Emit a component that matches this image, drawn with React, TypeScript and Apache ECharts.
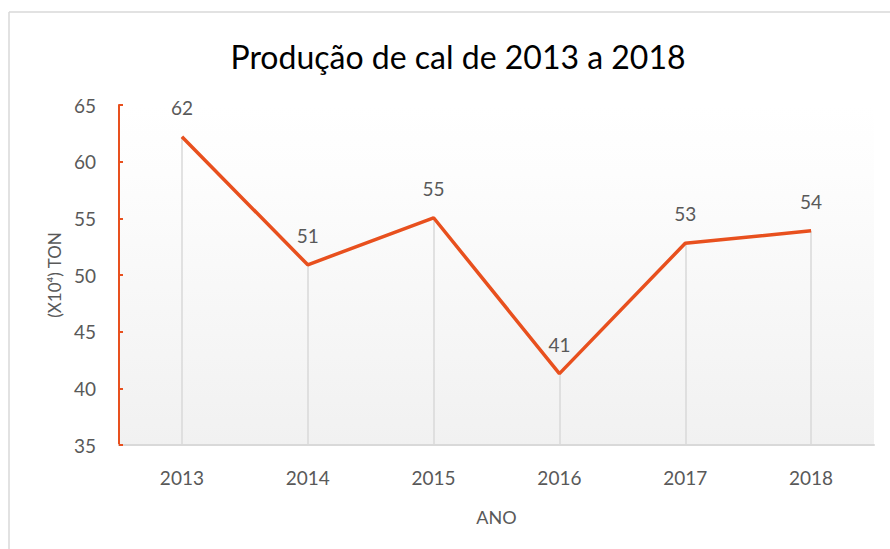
import React, { useEffect, useRef } from "react";
import * as echarts from "echarts";

const categories = ["2013", "2014", "2015", "2016", "2017", "2018"];
const values = [62.2, 50.9, 55.05, 41.3, 52.8, 53.9];
const labels = ["62", "51", "55", "41", "53", "54"];
const yMin = 35;
const yMax = 65;
const yInterval = 5;

const FONT = "Lato, 'Noto Sans', sans-serif";
const TEXT = "#595959";
const RED = "#E8501E";
const GRAY = "#d9d9d9";

export default function App() {
  const ref = useRef<HTMLDivElement>(null);
  useEffect(() => {
    const chart = echarts.init(ref.current!, null, { renderer: "svg" });
    chart.setOption({
      animation: false,
      backgroundColor: "#ffffff",
      textStyle: { fontFamily: FONT },
      title: {
        text: "Produção de cal de 2013 a 2018",
        left: 453,
        top: 35,
        textAlign: "center",
        textStyle: { fontFamily: FONT, fontSize: 32, fontWeight: "normal", color: "#000" },
      },
      graphic: [
        { type: "line", shape: { x1: 9, y1: 12, x2: 890, y2: 12 }, style: { stroke: GRAY, lineWidth: 1.5 } },
        { type: "line", shape: { x1: 9, y1: 12, x2: 9, y2: 549 }, style: { stroke: GRAY, lineWidth: 1.5 } },
      ],
      grid: {
        left: 119,
        right: 16,
        top: 105,
        bottom: 104,
        show: true,
        borderWidth: 0,
        backgroundColor: {
          type: "linear",
          x: 0,
          y: 0,
          x2: 0,
          y2: 1,
          colorStops: [
            { offset: 0, color: "#ffffff" },
            { offset: 0.2, color: "#fdfdfd" },
            { offset: 1, color: "#f1f1f1" },
          ],
        },
      },
      xAxis: {
        type: "category",
        data: categories,
        boundaryGap: true,
        name: "ANO",
        nameLocation: "middle",
        nameGap: 63,
        nameTextStyle: { fontFamily: FONT, fontSize: 18, color: TEXT },
        axisLine: { lineStyle: { color: GRAY, width: 2 } },
        axisTick: { show: false },
        axisLabel: { fontFamily: FONT, fontSize: 19, color: TEXT, margin: 23 },
        splitLine: { show: false },
      },
      yAxis: {
        type: "value",
        min: yMin,
        max: yMax,
        interval: yInterval,
        name: "(X10⁴) TON",
        nameLocation: "middle",
        nameGap: 52,
        nameTextStyle: { fontFamily: FONT, fontSize: 17, color: TEXT },
        axisLine: { show: true, lineStyle: { color: RED, width: 2 } },
        axisTick: { show: true, inside: true, length: 4, lineStyle: { color: RED, width: 2 } },
        axisLabel: { fontFamily: FONT, fontSize: 19, color: TEXT, margin: 23 },
        splitLine: { show: false },
      },
      series: [
        {
          type: "line",
          data: values,
          showSymbol: false,
          symbol: "none",
          lineStyle: { color: RED, width: 3.5 },
          markLine: {
            silent: true,
            symbol: "none",
            label: { show: false },
            lineStyle: { color: GRAY, width: 1.5, type: "solid" },
            z: 1,
            data: values.map((v, i) => [
              { coord: [i, yMin] },
              { coord: [i, v] },
            ]),
          },
          z: 3,
        },
        {
          type: "scatter",
          data: values,
          symbol: "circle",
          symbolSize: 2,
          itemStyle: { color: "rgba(0,0,0,0)", opacity: 1 },
          label: {
            show: true,
            position: "top",
            distance: 19,
            fontFamily: FONT,
            fontSize: 19,
            color: TEXT,
            opacity: 1,
            formatter: (p: any) => labels[p.dataIndex],
          },
          z: 4,
        },
      ],
    });
    return () => chart.dispose();
  }, []);
  return (
    <div
      ref={ref}
      style={{ position: "absolute", left: 0, top: 0, width: 890, height: 549 }}
    />
  );
}
